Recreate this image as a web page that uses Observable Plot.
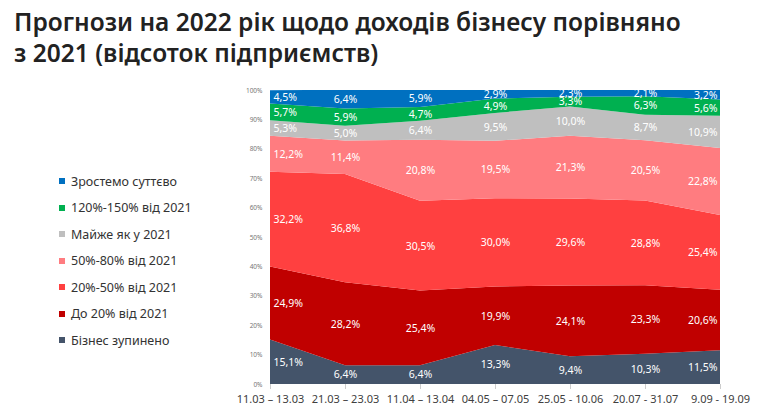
<!DOCTYPE html>
<html>
<head>
<meta charset="utf-8">
<script src="https://cdn.jsdelivr.net/npm/d3@7"></script>
<script src="https://cdn.jsdelivr.net/npm/@observablehq/plot@0.6"></script>
<style>
  body { margin: 0; background: #fff; font-family: "Noto Sans", "Open Sans", sans-serif; }
  #wrap { position: relative; width: 764px; height: 409px; overflow: hidden; }
  #title { position: absolute; left: 14px; top: 6px; font-size: 24.5px; line-height: 31px; color: #222; font-weight: 600; z-index: 2; white-space: nowrap; }
  #chart { position: absolute; left: 0; top: 80px; z-index: 1; }
  #legend { position: absolute; left: 59px; top: 168px; font-size: 12.5px; color: #333; z-index: 2; }
  #legend .it { height: 26.5px; display: flex; align-items: center; white-space: nowrap; }
  #legend .sw { width: 6px; height: 6px; margin-right: 6px; }
</style>
</head>
<body>
<div id="wrap">
  <div id="chart"></div>
  <div id="title">Прогнози на 2022 рік щодо доходів бізнесу порівняно<br>з 2021 (відсоток підприємств)</div>
  <div id="legend"></div>
</div>
<script>
// periods on the x axis
const periods = ["11.03 – 13.03", "21.03 – 23.03", "11.04 – 13.04", "04.05 – 07.05", "25.05 - 10.06", "20.07 - 31.07", "9.09 - 19.09"];
// categories from bottom of the stack to top
const categories = ["Бізнес зупинено", "До 20% від 2021", "20%-50% від 2021", "50%-80% від 2021", "Майже як у 2021", "120%-150% від 2021", "Зростемо суттєво"];
const colors = ["#44546A", "#C00000", "#FF4040", "#FF7C80", "#BFBFBF", "#00B050", "#0070C0"];
// series values (% of enterprises) per period
const stopped   = [15.1, 6.4, 6.4, 13.3, 9.4, 10.3, 11.5];
const upTo20    = [24.9, 28.2, 25.4, 19.9, 24.1, 23.3, 20.6];
const p20to50   = [32.2, 36.8, 30.5, 30.0, 29.6, 28.8, 25.4];
const p50to80   = [12.2, 11.4, 20.8, 19.5, 21.3, 20.5, 22.8];
const almost    = [5.3, 5.0, 6.4, 9.5, 10.0, 8.7, 10.9];
const p120to150 = [5.7, 5.9, 4.7, 4.9, 3.3, 6.3, 5.6];
const growBig   = [4.5, 6.4, 5.9, 2.9, 2.3, 2.1, 3.2];
const yTicks = [0, 10, 20, 30, 40, 50, 60, 70, 80, 90, 100];

const series = [stopped, upTo20, p20to50, p50to80, almost, p120to150, growBig];
const data = [];
series.forEach((vals, ci) => vals.forEach((v, pi) => data.push({cat: categories[ci], period: periods[pi], pi, value: v})));

const fmt = v => v.toFixed(1).replace(".", ",") + "%";
const stackOpts = () => Plot.stackY({x: "period", y: "value", z: "cat", order: categories});

const labelStyle = {text: d => fmt(d.value), fill: "white", fontSize: 10.5, fontFamily: "Noto Sans, Open Sans, sans-serif"};

const chart = Plot.plot({
  width: 764,
  height: 329,
  marginTop: 10,
  marginBottom: 25,
  marginLeft: 268,
  marginRight: 42,
  style: {fontFamily: "Noto Sans, Open Sans, sans-serif", background: "white"},
  x: {type: "point", domain: periods, padding: 0, label: null},
  y: {domain: [0, 100], label: null},
  color: {domain: categories, range: colors},
  marks: [
    Plot.areaY(data, {...stackOpts(), fill: "cat", curve: "linear", clip: true}),
    Plot.text(data, {...Plot.filter(d => d.pi === 0, stackOpts()), ...labelStyle, textAnchor: "start", dx: 3}),
    Plot.text(data, {...Plot.filter(d => d.pi > 0 && d.pi < 6, stackOpts()), ...labelStyle, textAnchor: "middle"}),
    Plot.text(data, {...Plot.filter(d => d.pi === 6, stackOpts()), ...labelStyle, textAnchor: "end", dx: -3}),
    Plot.axisY({ticks: yTicks, tickFormat: d => d + "%", tickSize: 0, tickPadding: 6, fontSize: 6.5, color: "#777", label: null}),
    Plot.axisX({tickSize: 5, tickPadding: 6, fontSize: 11, color: "#404040", stroke: "#ccc", label: null})
  ]
});
document.getElementById("chart").appendChild(chart);

// legend (top to bottom order is reverse of stack)
const legend = document.getElementById("legend");
[...categories].reverse().forEach((c, i) => {
  const col = colors[categories.length - 1 - i];
  const it = document.createElement("div");
  it.className = "it";
  it.innerHTML = `<span class="sw" style="background:${col}"></span><span>${c}</span>`;
  legend.appendChild(it);
});
</script>
</body>
</html>
